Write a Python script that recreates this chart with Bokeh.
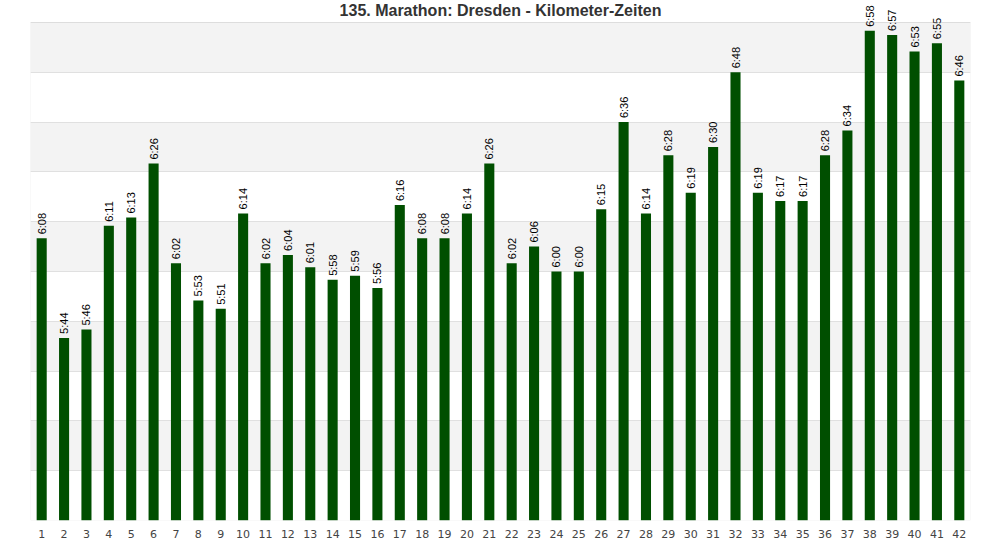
import math
from bokeh.plotting import figure
from bokeh.models import ColumnDataSource, FixedTicker, Label, BoxAnnotation
from bokeh.core.properties import value
from bokeh.embed import file_html
from bokeh.resources import INLINE

title_text = "135. Marathon: Dresden - Kilometer-Zeiten"
km = list(range(1, 43))
times = ["6:08", "5:44", "5:46", "6:11", "6:13", "6:26", "6:02", "5:53", "5:51", "6:14",
         "6:02", "6:04", "6:01", "5:58", "5:59", "5:56", "6:16", "6:08", "6:08", "6:14",
         "6:26", "6:02", "6:06", "6:00", "6:00", "6:15", "6:36", "6:14", "6:28", "6:19",
         "6:30", "6:48", "6:19", "6:17", "6:17", "6:28", "6:34", "6:58", "6:57", "6:53",
         "6:55", "6:46"]
seconds = [int(t.split(":")[0]) * 60 + int(t.split(":")[1]) for t in times]
y_ticks = list(range(300, 421, 12))
y_min, y_max = 300, 420

# plot box is 498px tall; frame extends 22px above it so labels/title aren't clipped
box_h, top_pad = 498, 22
y_end = y_min + (y_max - y_min) * (box_h + top_pad) / box_h

src = ColumnDataSource(dict(x=km, y=seconds, label=times))

p = figure(output_backend="svg", toolbar_location=None,
           x_range=(0.5, 42.5), y_range=(y_min, y_end),
           frame_width=940, frame_height=box_h + top_pad,
           min_border_left=30, min_border_right=30, min_border_top=0, min_border_bottom=0)
p.title.visible = False

p.xgrid.visible = False
p.ygrid.ticker = FixedTicker(ticks=y_ticks)
p.ygrid.grid_line_color = "#e0e0e0"
p.ygrid.band_fill_color = "#f3f3f3"
p.ygrid.band_fill_alpha = 1.0
p.outline_line_color = None
p.background_fill_color = "#ffffff"
p.border_fill_color = "#ffffff"

p.vbar(x="x", top="y", bottom=y_min, width=0.45, source=src,
       fill_color="#004f00", line_color=None)

p.add_layout(BoxAnnotation(left=0.5, right=42.5, bottom=y_min, top=y_max,
                           fill_alpha=0, line_color="#d8d8d8", line_width=1))

p.text(x="x", y="y", text="label", source=src, angle=math.pi / 2,
       text_align="left", text_baseline="middle", x_offset=0, y_offset=-4,
       text_font=value("Liberation Sans"), text_font_size="11px", text_color="#000000")

p.add_layout(Label(x=470, y=box_h + top_pad - 10, x_units="screen", y_units="screen",
                   text=title_text, text_align="center", text_baseline="middle",
                   text_font="Liberation Sans", text_font_size="16px",
                   text_font_style="bold", text_color="#333333"))

p.yaxis.visible = False
p.xaxis.ticker = FixedTicker(ticks=km)
p.xaxis.axis_line_color = None
p.xaxis.major_tick_line_color = None
p.xaxis.minor_tick_line_color = None
p.xaxis.major_label_text_font = "DejaVu Sans"
p.xaxis.major_label_text_font_size = "11px"
p.xaxis.major_label_text_color = "#444444"
p.xaxis.major_label_standoff = 3

open("out.html", "w").write(file_html(p, INLINE))
